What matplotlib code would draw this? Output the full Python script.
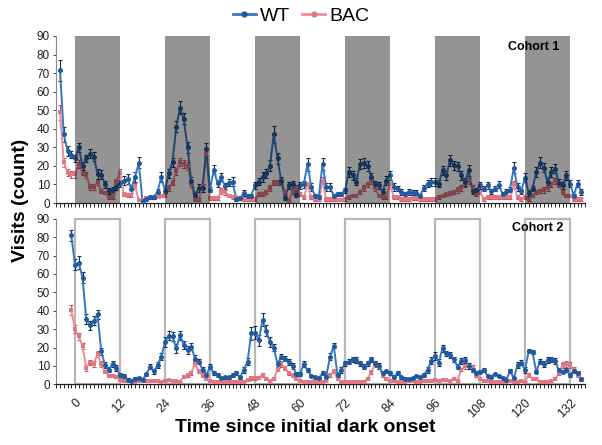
import matplotlib
matplotlib.use('Agg')
import matplotlib.pyplot as plt
from matplotlib.patches import Rectangle
from matplotlib.lines import Line2D
from matplotlib.ticker import MultipleLocator, FixedLocator

plt.rcParams['font.family'] = ['Liberation Sans', 'DejaVu Sans']

# ---------------- data ----------------
hours_c1 = list(range(-4, 136))
hours_c2 = list(range(-1, 136))
dark_starts = [0, 24, 48, 72, 96, 120]
dark_len = 12
xtick_values = [0, 12, 24, 36, 48, 60, 72, 84, 96, 108, 120, 132]
xtick_labels = ['0', '12', '24', '36', '48', '60', '72', '84', '96', '108', '120', '132']
ytick_values = [0, 10, 20, 30, 40, 50, 60, 70, 80, 90]
series_names = ['WT', 'BAC']
panel_titles = ['Cohort 1', 'Cohort 2']

wt_c1 = [71.5, 37, 28, 26,
         24, 30, 20, 24, 26.5, 25, 15.7, 15.3, 10, 6.5, 7, 8.5,
         10.6, 12, 13, 7.6, 14, 21.6, 1, 2, 3, 3.4, 6, 14,
         6.7, 16, 22, 41, 51.3, 45.4, 30, 12, 4.3, 8, 8, 29,
         7.2, 18, 10.6, 13.9, 9, 11, 11.5, 2, 2.5, 5.5, 4, 4,
         9.5, 11.5, 14, 16, 20, 37, 24, 12, 2.5, 9.5, 10, 4.5,
         9.5, 10, 21, 8.6, 4, 3.2, 21, 8.6, 8.6, 4, 5, 5,
         6.8, 16.7, 15, 11.5, 21, 21.5, 20, 14, 10, 9.5, 6, 12,
         15, 8.6, 7.7, 6, 5, 6, 5.6, 5.6, 4, 8, 10.4, 11.3,
         11.3, 10.4, 17.6, 15, 23, 20.3, 19.8, 15, 11.3, 17.6, 6.3, 6.8,
         9.5, 7.7, 9.5, 6.3, 7.7, 9.9, 5, 6, 7.2, 19, 8.6, 6.3,
         13.7, 5.4, 7.7, 16.7, 21.6, 19, 11.3, 16.7, 18.5, 11, 9.5, 15,
         10.4, 4, 10.4, 6]
wt_c1_err = [5.5, 4, 2.5, 2,
             2, 2.5, 2, 2, 2.5, 2.5, 2.5, 2.5, 2, 1.5, 1.5, 1.5,
             2, 2.5, 2.5, 2, 2.5, 3, 0.8, 1, 1, 1, 1.5, 2.5,
             1.5, 2.5, 2.5, 3, 3.5, 3, 3, 2, 1, 2, 2, 3.5,
             1.5, 2.5, 2, 2, 2, 2, 2.5, 0.8, 1, 1.5, 1, 1,
             2, 2, 2.5, 2.5, 3, 4.5, 3, 2, 1, 2, 2, 1.5,
             2, 2, 3.5, 2, 1, 1, 3, 2, 2, 1, 1, 1,
             1.5, 2.5, 2.5, 2, 2.5, 2.5, 2.5, 2, 2, 2, 1.5, 2.5,
             2.5, 2, 1.5, 1.5, 1, 1.5, 1.5, 1.5, 1, 1.5, 2, 2,
             2, 2, 2.5, 2.5, 3, 2.5, 2.5, 2.5, 2, 3, 1.5, 1.5,
             2, 1.5, 2, 1.5, 1.5, 2, 1, 1.5, 1.5, 3, 2, 1.5,
             2.5, 1.5, 1.5, 2.5, 3, 2.5, 2, 2.5, 2.5, 2, 2, 2.5,
             2, 1, 2, 1.5]
bac_c1 = [49, 22, 16.4, 15.5,
          15.5, 21, 16.4, 15, 8.6, 8.6, 11.3, 6.3, 5.6, 3.2, 3.2, 11.3,
          16.2, 4.7, 4.5, 4.5, 9.2, 1.4, 1.5, 2.5, 3, 3, 3.5, 4,
          4, 8, 11, 17, 22, 21, 20, 10, 2, 2, 9, 26.5,
          2.5, 2.5, 2.5, 6.5, 6, 4, 3, 3, 2.5, 2, 2, 2,
          2, 5, 5, 6, 8, 11, 11, 12, 6, 1, 6, 8,
          5, 3, 10, 3, 2, 1.5, 12, 2, 2, 2, 1.5, 1.5,
          2, 3, 4, 4, 6, 8, 10, 12, 8, 4, 3, 3,
          10, 3, 3, 2, 2, 2, 2.5, 2.5, 2, 2, 2, 2,
          2, 3, 4, 5, 5.5, 6, 7, 8, 10, 12, 8, 5,
          6, 2, 3, 3, 3, 3, 3, 3, 3, 10, 3, 2,
          3, 2, 4, 6, 6.5, 7, 8, 10, 12, 10, 6, 4,
          4, 2, 2, 2]
bac_c1_err = [4, 2.5, 2, 2,
              2, 2, 1.5, 1.5, 1.5, 1.5, 1.5, 1, 1, 1, 1, 1.5,
              2, 1, 1, 1, 1.5, 0.5, 0.5, 0.5, 0.8, 0.8, 0.8, 1,
              1, 1.5, 1.5, 2, 2, 2, 2, 1.5, 0.8, 0.8, 1.5, 3,
              1, 1, 1, 1.5, 1.5, 1, 1, 1, 0.8, 0.8, 0.8, 0.8,
              0.8, 1, 1, 1, 1.5, 1.5, 1.5, 1.5, 1, 0.5, 1, 1.5,
              1, 1, 1.5, 1, 0.8, 0.5, 2, 0.8, 0.8, 0.8, 0.5, 0.5,
              0.8, 1, 1, 1, 1, 1.5, 1.5, 1.5, 1.5, 1, 1, 1,
              1.5, 1, 1, 0.8, 0.8, 0.8, 0.8, 0.8, 0.8, 0.8, 0.8, 0.8,
              0.8, 1, 1, 1, 1, 1, 1.5, 1.5, 1.5, 1.5, 1.5, 1,
              1, 0.8, 1, 1, 1, 1, 1, 1, 1, 2, 1, 0.8,
              1, 0.8, 1, 1, 1, 1.5, 1.5, 1.5, 1.5, 1.5, 1, 1,
              1, 0.8, 0.8, 0.8]

wt_c2 = [81,
         65, 66, 58, 35.5, 32, 34.5, 38, 18, 10.5, 8, 11, 9,
         5, 4.5, 2.5, 2, 3, 3.3, 2.4, 5.4, 9.6, 7, 10.5, 15,
         23, 26.4, 26, 19.5, 26.6, 21.4, 18.6, 20.5, 14, 12.3, 8, 5,
         9.6, 6, 5, 3.3, 3.8, 3.8, 5, 6, 3.8, 7.8, 12.3, 27.7,
         28, 24, 35, 29, 23, 20, 11, 15, 14, 12, 10, 5.6,
         5.6, 11, 7.8, 4.5, 3.8, 3.2, 6, 4.2, 15, 21, 5, 7.8,
         11.4, 12.3, 13.6, 13.2, 11.4, 9.6, 11.4, 13.6, 11.4, 10, 6, 7,
         6, 4, 6, 3.8, 3, 2.7, 3.2, 4.5, 3.8, 5, 7.8, 12.8,
         15.4, 11.8, 19.6, 16.8, 16, 13.6, 9.6, 12.8, 13.2, 10, 7.8, 6.3,
         6.9, 7.8, 4.5, 4.2, 5.6, 4.5, 3.2, 2.3, 7.4, 3.2, 10.5, 11.8,
         7.8, 18.3, 17.4, 6.9, 12.3, 11, 13.2, 13.6, 12.7, 7.8, 6.9, 7.8,
         5, 7.4, 6.3, 2.7]
wt_c2_err = [3,
             3, 3.5, 3, 2.5, 2.5, 2.5, 2.5, 2, 1.5, 1.5, 1.5, 1.5,
             1, 1, 0.8, 0.8, 0.8, 0.8, 0.8, 1, 1.5, 1.5, 1.5, 2,
             2.5, 2.5, 2.5, 2.5, 2.5, 2, 2, 2, 2, 1.5, 1.5, 1,
             1.5, 1, 1, 0.8, 0.8, 0.8, 1, 1, 0.8, 1.5, 2, 3.5,
             3.5, 3, 3.5, 3, 2.5, 2, 1.5, 1.5, 1.5, 1.5, 1.5, 1,
             1, 1.5, 1, 0.8, 0.8, 0.8, 1, 0.8, 2, 1.5, 1, 1.5,
             1.5, 1.5, 1.5, 1.5, 1.5, 1.5, 1.5, 1.5, 1.5, 1.5, 1, 1,
             1, 0.8, 1, 0.8, 0.8, 0.8, 0.8, 0.8, 0.8, 1, 1.5, 2,
             2, 2, 2, 1.5, 1.5, 1.5, 1.5, 1.5, 1.5, 1.5, 1, 1,
             1, 1, 0.8, 0.8, 0.8, 0.8, 0.8, 0.8, 1, 0.8, 1.5, 1.5,
             1.5, 1, 1, 1, 1.5, 1.5, 1.5, 1.5, 1.5, 1, 1, 1,
             1, 1, 1, 0.8]
bac_c2 = [40.4,
          30, 26, 20.8, 9, 11.8, 11, 16.5, 11, 6.9, 4.7, 4.7, 4.2,
          2.4, 2, 2, 2, 1.5, 2, 2.5, 2, 2, 2, 2, 1.5,
          2, 2.5, 2, 2, 1.5, 4, 5, 6, 11.5, 7, 5, 3,
          2, 1.5, 1.5, 1, 1, 1, 1.5, 1.5, 1.5, 1.5, 2.3, 3.2,
          3.2, 3.5, 5, 3, 2, 3, 8, 11, 9, 6, 5, 3,
          2, 1.5, 1.5, 1.5, 1.5, 1.5, 1.5, 2, 5, 7, 3, 1.5,
          1.5, 1.5, 1.5, 1.5, 1.5, 1.5, 3, 6.5, 11, 10, 5, 3,
          2, 2, 1.5, 1.5, 1.5, 2, 2, 1.5, 1.5, 2, 2, 2,
          2.5, 2, 2.5, 2.5, 2, 3, 2, 8, 10, 10, 9, 5,
          3, 2, 2, 1.5, 1.5, 1.5, 1.5, 1.5, 2, 1.5, 1.5, 2,
          1.5, 5, 3, 3, 1.5, 1.5, 1.5, 2, 3, 6, 10.5, 11,
          10.5, 8, 5, 3]
bac_c2_err = [2.5,
              2, 2, 1.5, 1.5, 1.5, 1.5, 1.5, 1.5, 1, 1, 1, 1,
              0.5, 0.5, 0.5, 0.5, 0.5, 0.5, 0.5, 0.5, 0.5, 0.5, 0.5, 0.5,
              0.5, 0.5, 0.5, 0.5, 0.5, 0.8, 1, 1, 1.5, 1, 1, 0.8,
              0.5, 0.5, 0.5, 0.5, 0.5, 0.5, 0.5, 0.5, 0.5, 0.5, 0.5, 0.8,
              0.8, 0.8, 1, 0.8, 0.5, 0.8, 1, 1.5, 1, 1, 1, 0.8,
              0.5, 0.5, 0.5, 0.5, 0.5, 0.5, 0.5, 0.5, 1, 1, 0.8, 0.5,
              0.5, 0.5, 0.5, 0.5, 0.5, 0.5, 0.8, 1, 1.5, 1.5, 1, 0.8,
              0.5, 0.5, 0.5, 0.5, 0.5, 0.5, 0.5, 0.5, 0.5, 0.5, 0.5, 0.5,
              0.5, 0.5, 0.5, 0.5, 0.5, 0.8, 0.5, 1, 1.5, 1.5, 1.5, 1,
              0.8, 0.5, 0.5, 0.5, 0.5, 0.5, 0.5, 0.5, 0.5, 0.5, 0.5, 0.5,
              0.5, 1, 0.8, 0.8, 0.5, 0.5, 0.5, 0.5, 0.8, 1, 1.5, 1.5,
              1.5, 1.5, 1, 0.8]

# ---------------- style ----------------
wt_line = '#3877c0'
wt_mark = '#1f5aa0'
wt_err = '#1b2f55'
bac_line = '#ec8d98'
bac_mark = '#e07884'
bac_err = '#c85a68'

W, H = 602, 445
fig = plt.figure(figsize=(W / 100, H / 100), dpi=100)
ax_left = 56.25 / W
ax_w = 528.75 / W
ax1 = fig.add_axes([ax_left, 1 - 203 / H, ax_w, 167 / H])
ax2 = fig.add_axes([ax_left, 1 - 384.3 / H, ax_w, 165.6 / H])


def draw_series(ax, hours, y, err, lc, mc, ec, marker, ms):
    ax.errorbar(hours, y, yerr=err, fmt='none', ecolor=ec, elinewidth=0.8,
                capsize=1.6, capthick=0.8, zorder=3)
    ax.plot(hours, y, color=lc, lw=1.4, zorder=3.5)
    ax.plot(hours, y, linestyle='none', marker=marker, markersize=ms,
            color=mc, markeredgewidth=0, zorder=4)


for ax in (ax1, ax2):
    ax.set_xlim(-5, 136)
    ax.set_ylim(0, 90)
    for s in ('top', 'right'):
        ax.spines[s].set_visible(False)
    ax.spines['left'].set_color('#8a8a8a')
    ax.spines['left'].set_linewidth(0.8)
    ax.spines['bottom'].set_color('#222222')
    ax.spines['bottom'].set_linewidth(0.9)
    ax.yaxis.set_major_locator(FixedLocator(ytick_values))
    ax.tick_params(axis='y', labelsize=8.5, length=2.5, width=0.6, pad=2,
                   colors='#222222')
    ax.xaxis.set_major_locator(FixedLocator(xtick_values))
    ax.xaxis.set_minor_locator(MultipleLocator(1))
    ax.tick_params(axis='x', which='both', length=3, width=0.7,
                   direction='out', colors='#222222')

# top panel
draw_series(ax1, hours_c1, bac_c1, bac_c1_err, bac_line, bac_mark, bac_err, 's', 3.2)
draw_series(ax1, hours_c1, wt_c1, wt_c1_err, wt_line, wt_mark, wt_err, 'o', 3.6)
for s in dark_starts:
    ax1.axvspan(s, s + dark_len, ymin=0, ymax=1, color='black', alpha=0.42,
                lw=0, zorder=5)
ax1.set_xticklabels([])
ax1.text(0.854, 0.934, panel_titles[0], transform=ax1.transAxes, fontsize=9,
         fontweight='bold', ha='left', va='center', zorder=6)

# bottom panel
for s in dark_starts:
    ax2.add_patch(Rectangle((s, 0), dark_len, 90, fill=False,
                            edgecolor='#b8b8b8', lw=1.6, zorder=1, clip_on=False))
draw_series(ax2, hours_c2, bac_c2, bac_c2_err, bac_line, bac_mark, bac_err, 's', 3.2)
draw_series(ax2, hours_c2, wt_c2, wt_c2_err, wt_line, wt_mark, wt_err, 'o', 3.6)
ax2.set_xticklabels(xtick_labels, rotation=45, ha='right',
                    rotation_mode='anchor', fontsize=9)
ax2.tick_params(axis='x', which='major', pad=6)
ax2.text(0.862, 0.944, panel_titles[1], transform=ax2.transAxes, fontsize=9,
         fontweight='bold', ha='left', va='center', zorder=6)

# labels
fig.text(21 / W, 1 - 200 / H, 'Visits (count)', rotation=90, fontsize=14,
         fontweight='bold', ha='center', va='center')
fig.text(305.5 / W, 1 - 428 / H, 'Time since initial dark onset', fontsize=14,
         fontweight='bold', ha='center', va='center')

# legend
handles = [
    Line2D([], [], color=wt_line, lw=2, marker='o', markersize=4.5,
           markerfacecolor=wt_mark, markeredgewidth=0),
    Line2D([], [], color=bac_line, lw=2, marker='o', markersize=4.5,
           markerfacecolor=bac_mark, markeredgewidth=0),
]
fig.legend(handles, series_names, loc='center', bbox_to_anchor=(301 / W, 1 - 16 / H),
           ncol=2, frameon=False, fontsize=14, handlelength=1.2,
           handletextpad=0.2, columnspacing=0.6, borderpad=0, borderaxespad=0)

fig.savefig('out.png', dpi=100)
